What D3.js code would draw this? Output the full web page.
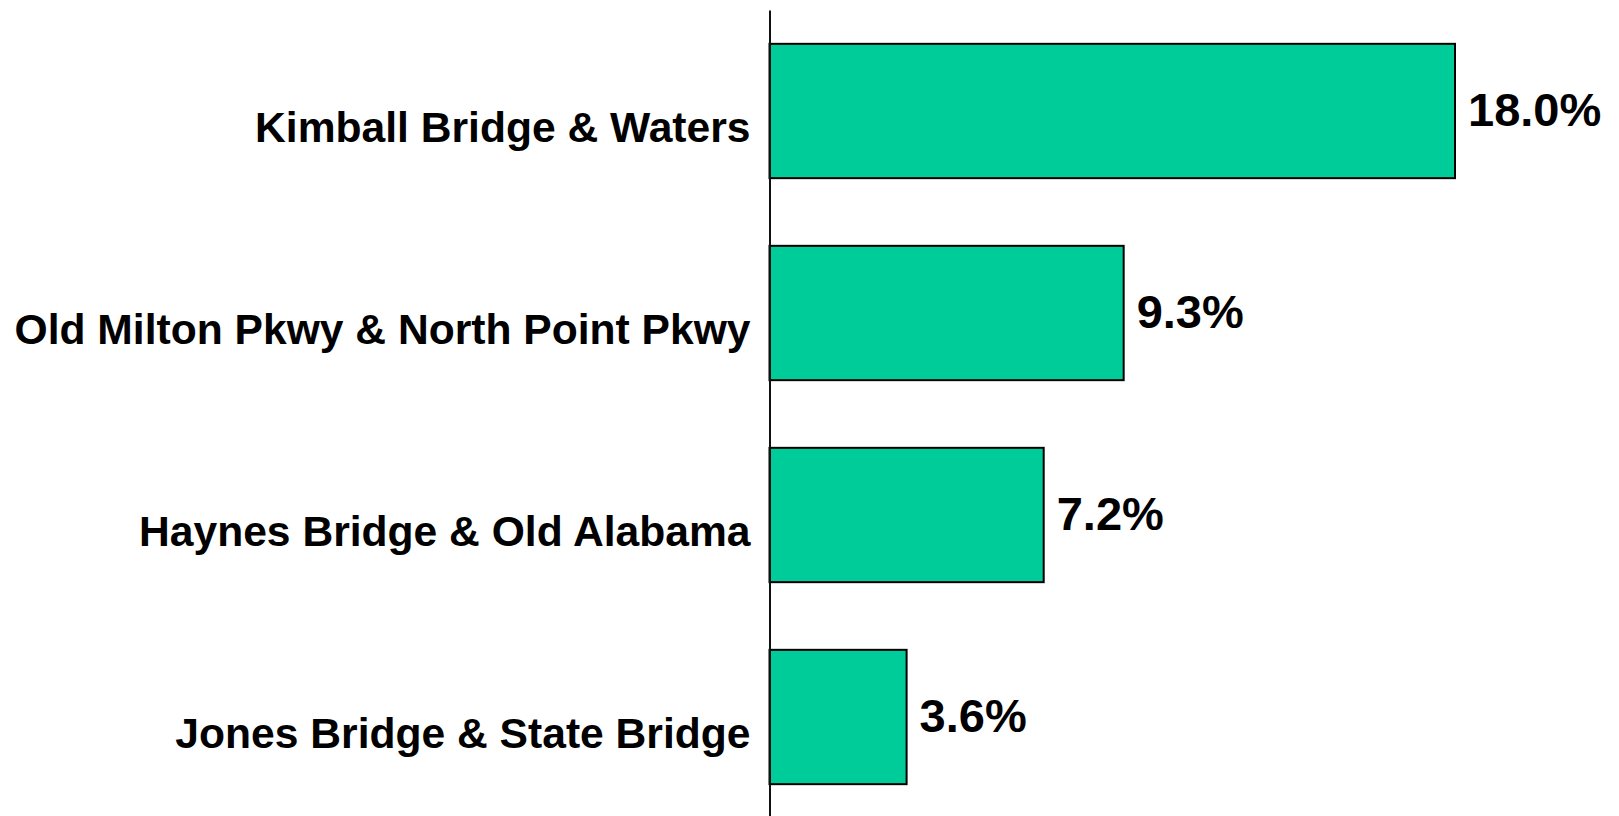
<!DOCTYPE html>
<html>
<head>
  <style>
    body { margin: 0; background: #fff; }
    .bar { fill: #00cc99; stroke: #000; stroke-width: 2px; }
    .cat-label { font-family: "Liberation Sans", Arial, sans-serif; font-weight: bold; font-size: 42.6px; fill: #000; }
    .val-label { font-family: "Liberation Sans", Arial, sans-serif; font-weight: bold; font-size: 47px; fill: #000; }
    .axis path { stroke: #111; stroke-width: 2px; }
  </style>
</head>
<body>
  <svg id="chart" width="1619" height="816"></svg>
  <script src="https://d3js.org/d3.v7.min.js"></script>
  <script>
    const categories = [
      "Kimball Bridge & Waters",
      "Old Milton Pkwy & North Point Pkwy",
      "Haynes Bridge & Old Alabama",
      "Jones Bridge & State Bridge"
    ];
    const values = [18.0, 9.3, 7.2, 3.6];
    const valueLabels = ["18.0%", "9.3%", "7.2%", "3.6%"];

    const svg = d3.select("#chart");

    const x = d3.scaleLinear().domain([0, 18]).range([769.5, 1455]);
    const y = d3.scaleBand()
                .domain(categories)
                .range([10, 818])
                .paddingInner(0.335)
                .paddingOuter(0.1675);

    const rows = categories.map((c, i) => ({ cat: c, value: values[i], label: valueLabels[i] }));

    // bars
    svg.selectAll(".bar")
       .data(rows)
       .enter()
       .append("rect")
       .attr("class", "bar")
       .attr("x", x(0))
       .attr("y", d => y(d.cat))
       .attr("width", d => x(d.value) - x(0))
       .attr("height", y.bandwidth());

    // vertical axis line
    svg.append("g")
       .attr("class", "axis")
       .attr("transform", `translate(${x(0)},0)`)
       .call(d3.axisLeft(y).tickSize(0).tickFormat(""))
       .call(g => g.selectAll(".tick").remove());

    // category labels
    svg.selectAll(".cat-label")
       .data(rows)
       .enter()
       .append("text")
       .attr("class", "cat-label")
       .attr("x", x(0) - 19)
       .attr("y", d => y(d.cat) + y.bandwidth() / 2 + 30.5)
       .attr("text-anchor", "end")
       .text(d => d.cat);

    // value labels
    svg.selectAll(".val-label")
       .data(rows)
       .enter()
       .append("text")
       .attr("class", "val-label")
       .attr("x", d => x(d.value) + 13)
       .attr("y", d => y(d.cat) + y.bandwidth() / 2 + 15)
       .text(d => d.label);
  </script>
</body>
</html>
